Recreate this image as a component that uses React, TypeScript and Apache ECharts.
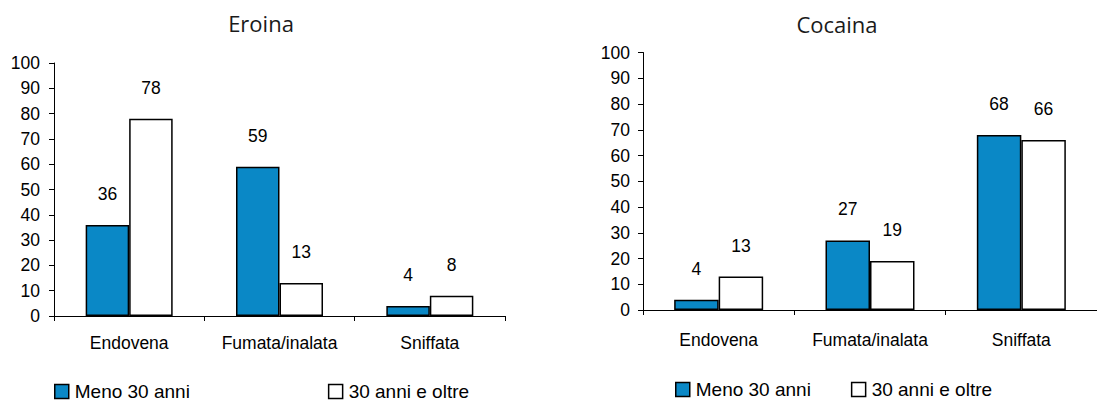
import React, { useEffect, useRef } from "react";
import * as echarts from "echarts";

const categories = ["Endovena", "Fumata/inalata", "Sniffata"];
const seriesNames = ["Meno 30 anni", "30 anni e oltre"];
const eroinaUnder30 = [36, 59, 4];
const eroinaOver30 = [78, 13, 8];
const cocainaUnder30 = [4, 27, 68];
const cocainaOver30 = [13, 19, 66];
const titles = ["Eroina", "Cocaina"];

const FONT = "Liberation Sans";
const BLUE = "#0a88c6";

export default function App() {
  const ref = useRef<HTMLDivElement>(null);

  useEffect(() => {
    document.body.style.margin = "0";
    const chart = echarts.init(ref.current!, null, { renderer: "svg" });

    const yAxisBase = (gridIndex: number, labelMargin: number) => ({
      type: "value",
      gridIndex,
      min: 0,
      max: 100,
      interval: 10,
      axisLine: { show: true, lineStyle: { color: "#000", width: 1 } },
      axisTick: { show: true, length: 5, lineStyle: { color: "#000" } },
      axisLabel: { color: "#000", fontFamily: FONT, fontSize: 17.5, margin: labelMargin },
      splitLine: { show: false },
    });

    const xAxisBase = (gridIndex: number, labelMargin: number) => ({
      type: "category",
      gridIndex,
      data: categories,
      axisLine: { show: true, lineStyle: { color: "#000", width: 1 } },
      axisTick: { show: true, length: 5, alignWithLabel: false, lineStyle: { color: "#000" } },
      axisLabel: { interval: 0, color: "#000", fontFamily: FONT, fontSize: 17.5, margin: labelMargin },
      splitLine: { show: false },
    });

    const bar = (
      name: string,
      idx: number,
      data: number[],
      color: string,
      width: number
    ) => ({
      name,
      type: "bar",
      xAxisIndex: idx,
      yAxisIndex: idx,
      data,
      barWidth: width,
      barGap: "0%",
      itemStyle: { color, borderColor: "#000", borderWidth: 1.5 },
      label: {
        show: true,
        position: "top",
        distance: 22,
        color: "#000",
        fontFamily: FONT,
        fontSize: 17.5,
      },
    });

    const legendBase = (left: number, top: number, gap: number) => ({
      left,
      top,
      orient: "horizontal",
      padding: 0,
      itemGap: gap,
      itemWidth: 14,
      itemHeight: 14,
      icon: "rect",
      data: [
        { name: seriesNames[0], itemStyle: { color: BLUE, borderColor: "#000", borderWidth: 1.5 } },
        { name: seriesNames[1], itemStyle: { color: "#fff", borderColor: "#000", borderWidth: 1.5 } },
      ],
      textStyle: { color: "#000", fontFamily: FONT, fontSize: 19, lineHeight: 17, padding: [0, 0, 0, 1] },
    });

    const titleStyle = { fontFamily: "Open Sans", fontWeight: "normal", fontSize: 22, color: "#1a1a1a" };

    chart.setOption({
      animation: false,
      backgroundColor: "#fff",
      title: [
        { text: titles[0], left: 261, top: 12, padding: 0, textAlign: "center", textStyle: titleStyle },
        { text: titles[1], left: 837, top: 13, padding: 0, textAlign: "center", textStyle: titleStyle },
      ],
      legend: [legendBase(54, 382, 138), legendBase(675, 380, 40)],
      grid: [
        { left: 54, top: 63, width: 451, height: 253 },
        { left: 643, top: 52.5, width: 465, height: 257.5 },
      ],
      xAxis: [xAxisBase(0, 18), xAxisBase(1, 21)],
      yAxis: [yAxisBase(0, 14), yAxisBase(1, 13)],
      series: [
        bar(seriesNames[0], 0, eroinaUnder30, BLUE, 43.5),
        bar(seriesNames[1], 0, eroinaOver30, "#fff", 43.5),
        bar(seriesNames[0], 1, cocainaUnder30, BLUE, 44.5),
        bar(seriesNames[1], 1, cocainaOver30, "#fff", 44.5),
      ],
    });

    return () => chart.dispose();
  }, []);

  return <div ref={ref} style={{ width: 1097, height: 403 }} />;
}
